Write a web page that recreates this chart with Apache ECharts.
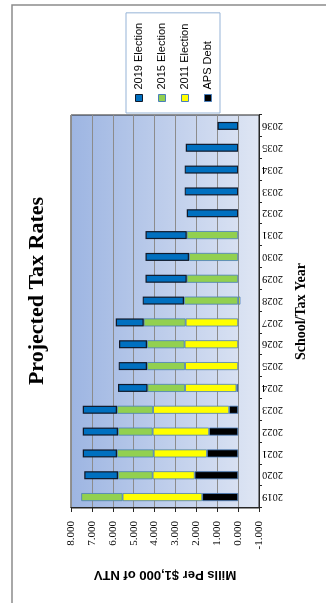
<!DOCTYPE html>
<html>
<head>
<meta charset="utf-8">
<script src="https://cdn.jsdelivr.net/npm/echarts@6/dist/echarts.min.js"></script>
<style>
  html, body { margin: 0; padding: 0; width: 326px; height: 603px; overflow: hidden; background: #fff; }
  /* The chart is laid out landscape and turned a quarter turn counter-clockwise onto the portrait page */
  #chart {
    position: absolute; left: 0; top: 0;
    width: 603px; height: 326px;
    transform-origin: 0 0;
    transform: translateY(603px) rotate(-90deg);
  }
</style>
</head>
<body>
<div id="chart"></div>
<script>
// School/tax years
const categories = ['2019','2020','2021','2022','2023','2024','2025','2026','2027',
                    '2028','2029','2030','2031','2032','2033','2034','2035','2036'];

// Mills per $1,000 of NTV, by levy
const apsDebt      = [1.72, 2.08, 1.49, 1.39, 0.43, 0.08, null, null, null, null, null, null, null, null, null, null, null, null];
const election2011 = [3.81, 2.01, 2.55, 2.70, 3.64, 2.46, 2.54, 2.56, 2.51, -0.11, null, null, null, null, null, null, null, null];
const election2015 = [1.98, 1.66, 1.76, 1.66, 1.73, 1.80, 1.82, 1.80, 2.01, 2.59, 2.46, 2.35, 2.46, null, null, null, null, null];
const election2019 = [null, 1.61, 1.64, 1.69, 1.64, 1.41, 1.36, 1.34, 1.34, 1.98, 1.97, 2.08, 1.97, 2.46, 2.56, 2.56, 2.51, 0.99];

// Value axis range and step
const valueMin = -1;
const valueMax = 8;
const valueStep = 1;

const chart = echarts.init(document.getElementById('chart'), null, { renderer: 'canvas' });

const serif = '"Liberation Serif", "Times New Roman", serif';
const sans = '"Liberation Sans", Arial, sans-serif';

const lightEdge = '#4a7ebb';
const darkEdge = '#10192a';

const levies = [
  { name: 'APS Debt',      data: apsDebt,      color: '#000000', edge: lightEdge, edgeWidth: 0.8 },
  { name: '2011 Election', data: election2011, color: '#ffff00', edge: lightEdge, edgeWidth: 0.8 },
  { name: '2015 Election', data: election2015, color: '#92d050', edge: lightEdge, edgeWidth: 0.8 },
  { name: '2019 Election', data: election2019, color: '#0070c0', edge: darkEdge,  edgeWidth: 1.2 }
];

// Legend lists the newest levy first
const legendItems = levies.slice().reverse().map(function (l) {
  return {
    name: l.name,
    itemStyle: { color: l.color, borderColor: l.edge, borderWidth: 1 }
  };
});

chart.setOption({
  animation: false,
  backgroundColor: '#ffffff',
  graphic: [
    {
      type: 'rect', silent: true, z: -10,
      shape: { x: -10, y: 12, width: 608, height: 330 },
      style: { fill: 'none', stroke: '#8c8c8c', lineWidth: 1.5 }
    },
    {
      type: 'text', silent: true,
      x: 312, y: 37,
      style: {
        text: 'Projected Tax Rates',
        font: 'bold 22px ' + serif,
        fill: '#000',
        align: 'center',
        verticalAlign: 'middle'
      }
    }
  ],
  legend: {
    data: legendItems,
    orient: 'vertical',
    left: 490, top: 126,
    icon: 'rect',
    itemWidth: 7, itemHeight: 7, itemGap: 9,
    padding: [6, 10, 5, 11],
    backgroundColor: '#ffffff',
    borderColor: '#95b3d7', borderWidth: 1,
    selectedMode: false,
    textStyle: { fontFamily: sans, fontSize: 11, color: '#000', lineHeight: 14 }
  },
  grid: {
    left: 95, top: 71, right: 115, bottom: 67,
    show: true,
    borderColor: '#262626', borderWidth: 1,
    backgroundColor: {
      type: 'linear', x: 0, y: 0, x2: 0, y2: 1,
      colorStops: [
        { offset: 0, color: '#9db5e2' },
        { offset: 1, color: '#dfe6f4' }
      ]
    }
  },
  xAxis: {
    type: 'category',
    data: categories,
    name: 'School/Tax Year',
    nameLocation: 'middle',
    nameGap: 35,
    nameTextStyle: { fontFamily: serif, fontWeight: 'bold', fontSize: 14, color: '#000' },
    axisLine: { onZero: false, lineStyle: { color: '#262626', width: 1 } },
    axisTick: { show: true, length: 3, alignWithLabel: false, lineStyle: { color: '#262626' } },
    axisLabel: { rotate: 90, margin: 3, fontFamily: serif, fontSize: 10.5, color: '#000', interval: 0 }
  },
  yAxis: {
    type: 'value',
    min: valueMin, max: valueMax, interval: valueStep,
    name: 'Mills Per $1,000 of NTV',
    nameLocation: 'middle',
    nameRotate: 90,
    nameGap: 60,
    nameTextStyle: { fontFamily: sans, fontWeight: 'bold', fontSize: 13, color: '#000' },
    axisLine: { show: true, lineStyle: { color: '#262626', width: 1 } },
    axisTick: { show: true, length: 4, lineStyle: { color: '#262626' } },
    axisLabel: {
      margin: 13, fontFamily: serif, fontSize: 11, color: '#000',
      formatter: function (v) { return v.toFixed(3); }
    },
    splitLine: { show: true, lineStyle: { color: '#8c8c8c', width: 1 } }
  },
  series: levies.map(function (l) {
    return {
      name: l.name,
      type: 'bar',
      stack: 'total',
      data: l.data,
      barWidth: 8,
      itemStyle: { color: l.color, borderColor: l.edge, borderWidth: l.edgeWidth },
      emphasis: { disabled: true }
    };
  })
});
</script>
</body>
</html>
